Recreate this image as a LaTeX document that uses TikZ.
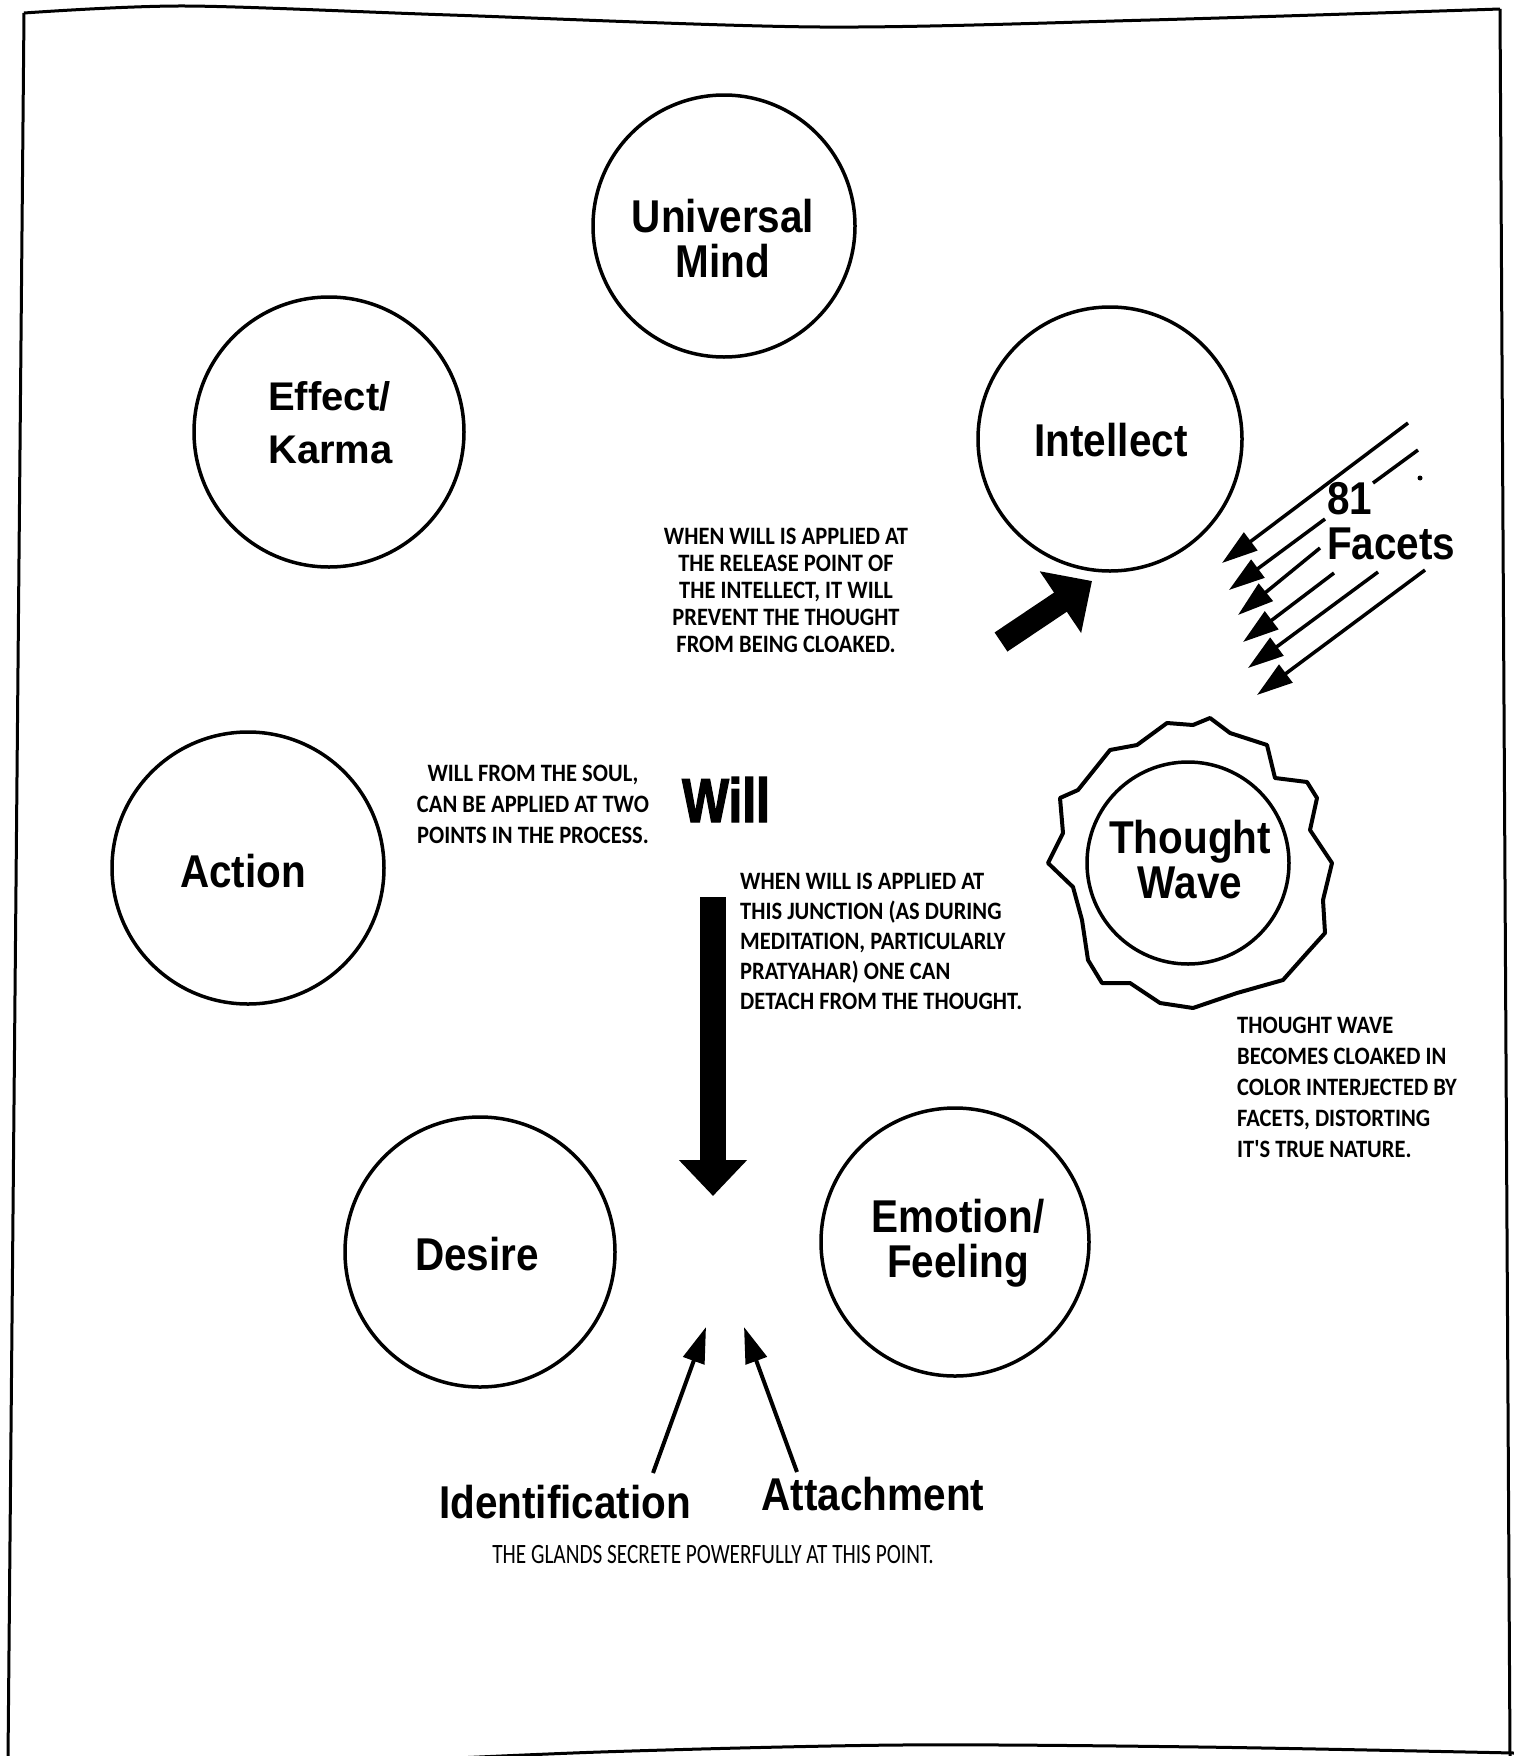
\documentclass[tikz,border=0pt]{standalone}
\usepackage{fontspec}
\setmainfont{Liberation Sans}
\newfontfamily\labfont{Liberation Sans}[FakeStretch=0.88]
\newfontfamily\karmafont{Liberation Sans}
\newfontfamily\willfont{Liberation Sans}[FakeStretch=0.8,FakeBold=2]
\newfontfamily\notefont{Carlito}[FakeStretch=0.9]
\newfontfamily\glandfont{Carlito}[FakeStretch=0.76]
\usetikzlibrary{arrows.meta}
\begin{document}
\begin{tikzpicture}[x=1pt,y=-1pt,
  ring/.style={circle,draw,line width=3.5pt,inner sep=0pt},
  lab/.style={font=\labfont\bfseries\fontsize{46}{45}\selectfont,inner sep=0pt,align=center},
  note/.style={font=\notefont\bfseries\fontsize{25}{#1}\selectfont,inner sep=0pt},
  facet/.style={line width=3.5pt,-{Triangle[length=36pt,width=22pt]}},
  thin arrow/.style={line width=4pt,-{Triangle[length=36pt,width=22pt]}},
  frame/.style={line width=3pt}]
\fill[white] (0,0) rectangle (1514,1756);
\useasboundingbox (0,0) rectangle (1514,1756);

% page frame
\draw[frame] plot[smooth] coordinates {(24,13) (185,6) (450,15) (820,27) (1150,20) (1500,9)};
\draw[frame] (24,13) -- (8,1760);
\draw[frame] (1500,9) -- (1510,1756);
\draw[frame] plot[smooth] coordinates {(330,1764) (600,1752) (900,1745) (1200,1747) (1514,1753)};

% circles
\node[ring,minimum size=262pt] (um) at (724,226) {};
\node[ring,minimum size=264pt] (intel) at (1110,439) {};
\node[ring,minimum size=270pt] (karma) at (329,432) {};
\node[ring,minimum size=272pt] (action) at (248,868) {};
\node[ring,minimum size=270pt] (desire) at (480,1252) {};
\node[ring,minimum size=268pt] (emotion) at (955,1242) {};
\node[ring,minimum size=202pt] (thought) at (1188,863) {};

% thought wave jagged outline
\draw[line width=4pt,line join=round] plot coordinates {
 (1110,750) (1137,745) (1167,723) (1193,725) (1210,718) (1230,733) (1267,745)
 (1275,778) (1307,782) (1317,798) (1310,830) (1332,863) (1323,900) (1325,933)
 (1307,953) (1283,980) (1237,993) (1193,1008) (1160,1003) (1130,983) (1102,983)
 (1088,960) (1082,920) (1073,887) (1048,863) (1063,833) (1060,798) (1078,790)} -- cycle;

% circle labels
\node[lab,anchor=north] (umText) at (723,199) {Universal\\Mind};
\node[lab,anchor=base] (intelText) at (1111,456) {Intellect};
\node[font=\karmafont\bfseries\fontsize{40}{53}\selectfont,align=left,anchor=north west,inner sep=0pt] (karmaText) at (268,381) {Effect/\\Karma};
\node[lab,anchor=base] (actionText) at (243,887) {Action};
\node[lab,anchor=base] (desireText) at (477,1270) {Desire};
\node[lab,anchor=north] (emotionText) at (958,1199) {Emotion/\\Feeling};
\node[lab,anchor=north] (thoughtText) at (1190,820) {Thought\\Wave};

% Will
\node[font=\willfont\bfseries\fontsize{62}{62}\selectfont,inner sep=0pt,anchor=base] (will) at (726,822) {Will};

% notes
\node[note=31,align=center,anchor=north] (note1) at (533,765)
 {WILL FROM THE SOUL,\\CAN BE APPLIED AT TWO\\POINTS IN THE PROCESS.};
\node[note=27,align=center,anchor=north] (note2) at (786,528)
 {WHEN WILL IS APPLIED AT\\THE RELEASE POINT OF\\THE INTELLECT, IT WILL\\PREVENT THE THOUGHT\\FROM BEING CLOAKED.};
\node[note=30,align=left,anchor=north west] (note3) at (740,873)
 {WHEN WILL IS APPLIED AT\\THIS JUNCTION (AS DURING\\MEDITATION, PARTICULARLY\\PRATYAHAR) ONE CAN\\DETACH FROM THE THOUGHT.};
\node[note=31,align=left,anchor=north west] (note4) at (1237,1017)
 {THOUGHT WAVE\\BECOMES CLOAKED IN\\COLOR INTERJECTED BY\\FACETS, DISTORTING\\IT'S TRUE NATURE.};
\node[font=\glandfont\fontsize{28}{30}\selectfont,inner sep=0pt,anchor=base] (glands) at (713,1563)
 {THE GLANDS SECRETE POWERFULLY AT THIS POINT.};

% Identification / Attachment labels
\node[lab,anchor=base] (ident) at (565,1518) {Identification};
\node[lab,anchor=base] (attach) at (873,1510) {Attachment};

% 81 Facets
\node[lab,align=left,anchor=north west] (facets) at (1327,482) {81\\Facets};

% thick arrow to intellect
\coordinate (thickTail) at (1001,642);
\coordinate (thickTip) at (1092,581);
\draw[line width=23pt,-{Triangle[length=38pt,width=72pt]}] (thickTail) -- (thickTip);

% vertical will arrow
\coordinate (willTail) at (713,897);
\coordinate (willTip) at (713,1196);
\draw[line width=26pt,-{Triangle[length=36pt,width=66pt]}] (willTail) -- (willTip);

% identification / attachment arrows
\coordinate (identTail) at (653,1473);
\coordinate (identTip) at (706,1327);
\coordinate (attTail) at (797,1472);
\coordinate (attTip) at (744,1327);
\draw[thin arrow] (identTail) -- (identTip);
\draw[thin arrow] (attTail) -- (attTip);

% facet arrows
\coordinate (f1a) at (1408,423); \coordinate (f1b) at (1222,563);
\coordinate (f2a) at (1418,450); \coordinate (f2m) at (1373,483);
\coordinate (f2n) at (1325,519); \coordinate (f2b) at (1229,590);
\coordinate (f3a) at (1320,548); \coordinate (f3b) at (1238,615);
\coordinate (f4a) at (1334,573); \coordinate (f4b) at (1243,642);
\coordinate (f5a) at (1378,572); \coordinate (f5b) at (1248,668);
\coordinate (f6a) at (1425,570); \coordinate (f6b) at (1257,695);
\draw[facet] (f1a) -- (f1b);
\draw[line width=3.5pt] (f2a) -- (f2m);
\draw[facet] (f2n) -- (f2b);
\draw[facet] (f3a) -- (f3b);
\draw[facet] (f4a) -- (f4b);
\draw[facet] (f5a) -- (f5b);
\draw[facet] (f6a) -- (f6b);
\fill (1420,478) circle (2.5pt);
\end{tikzpicture}
\end{document}
